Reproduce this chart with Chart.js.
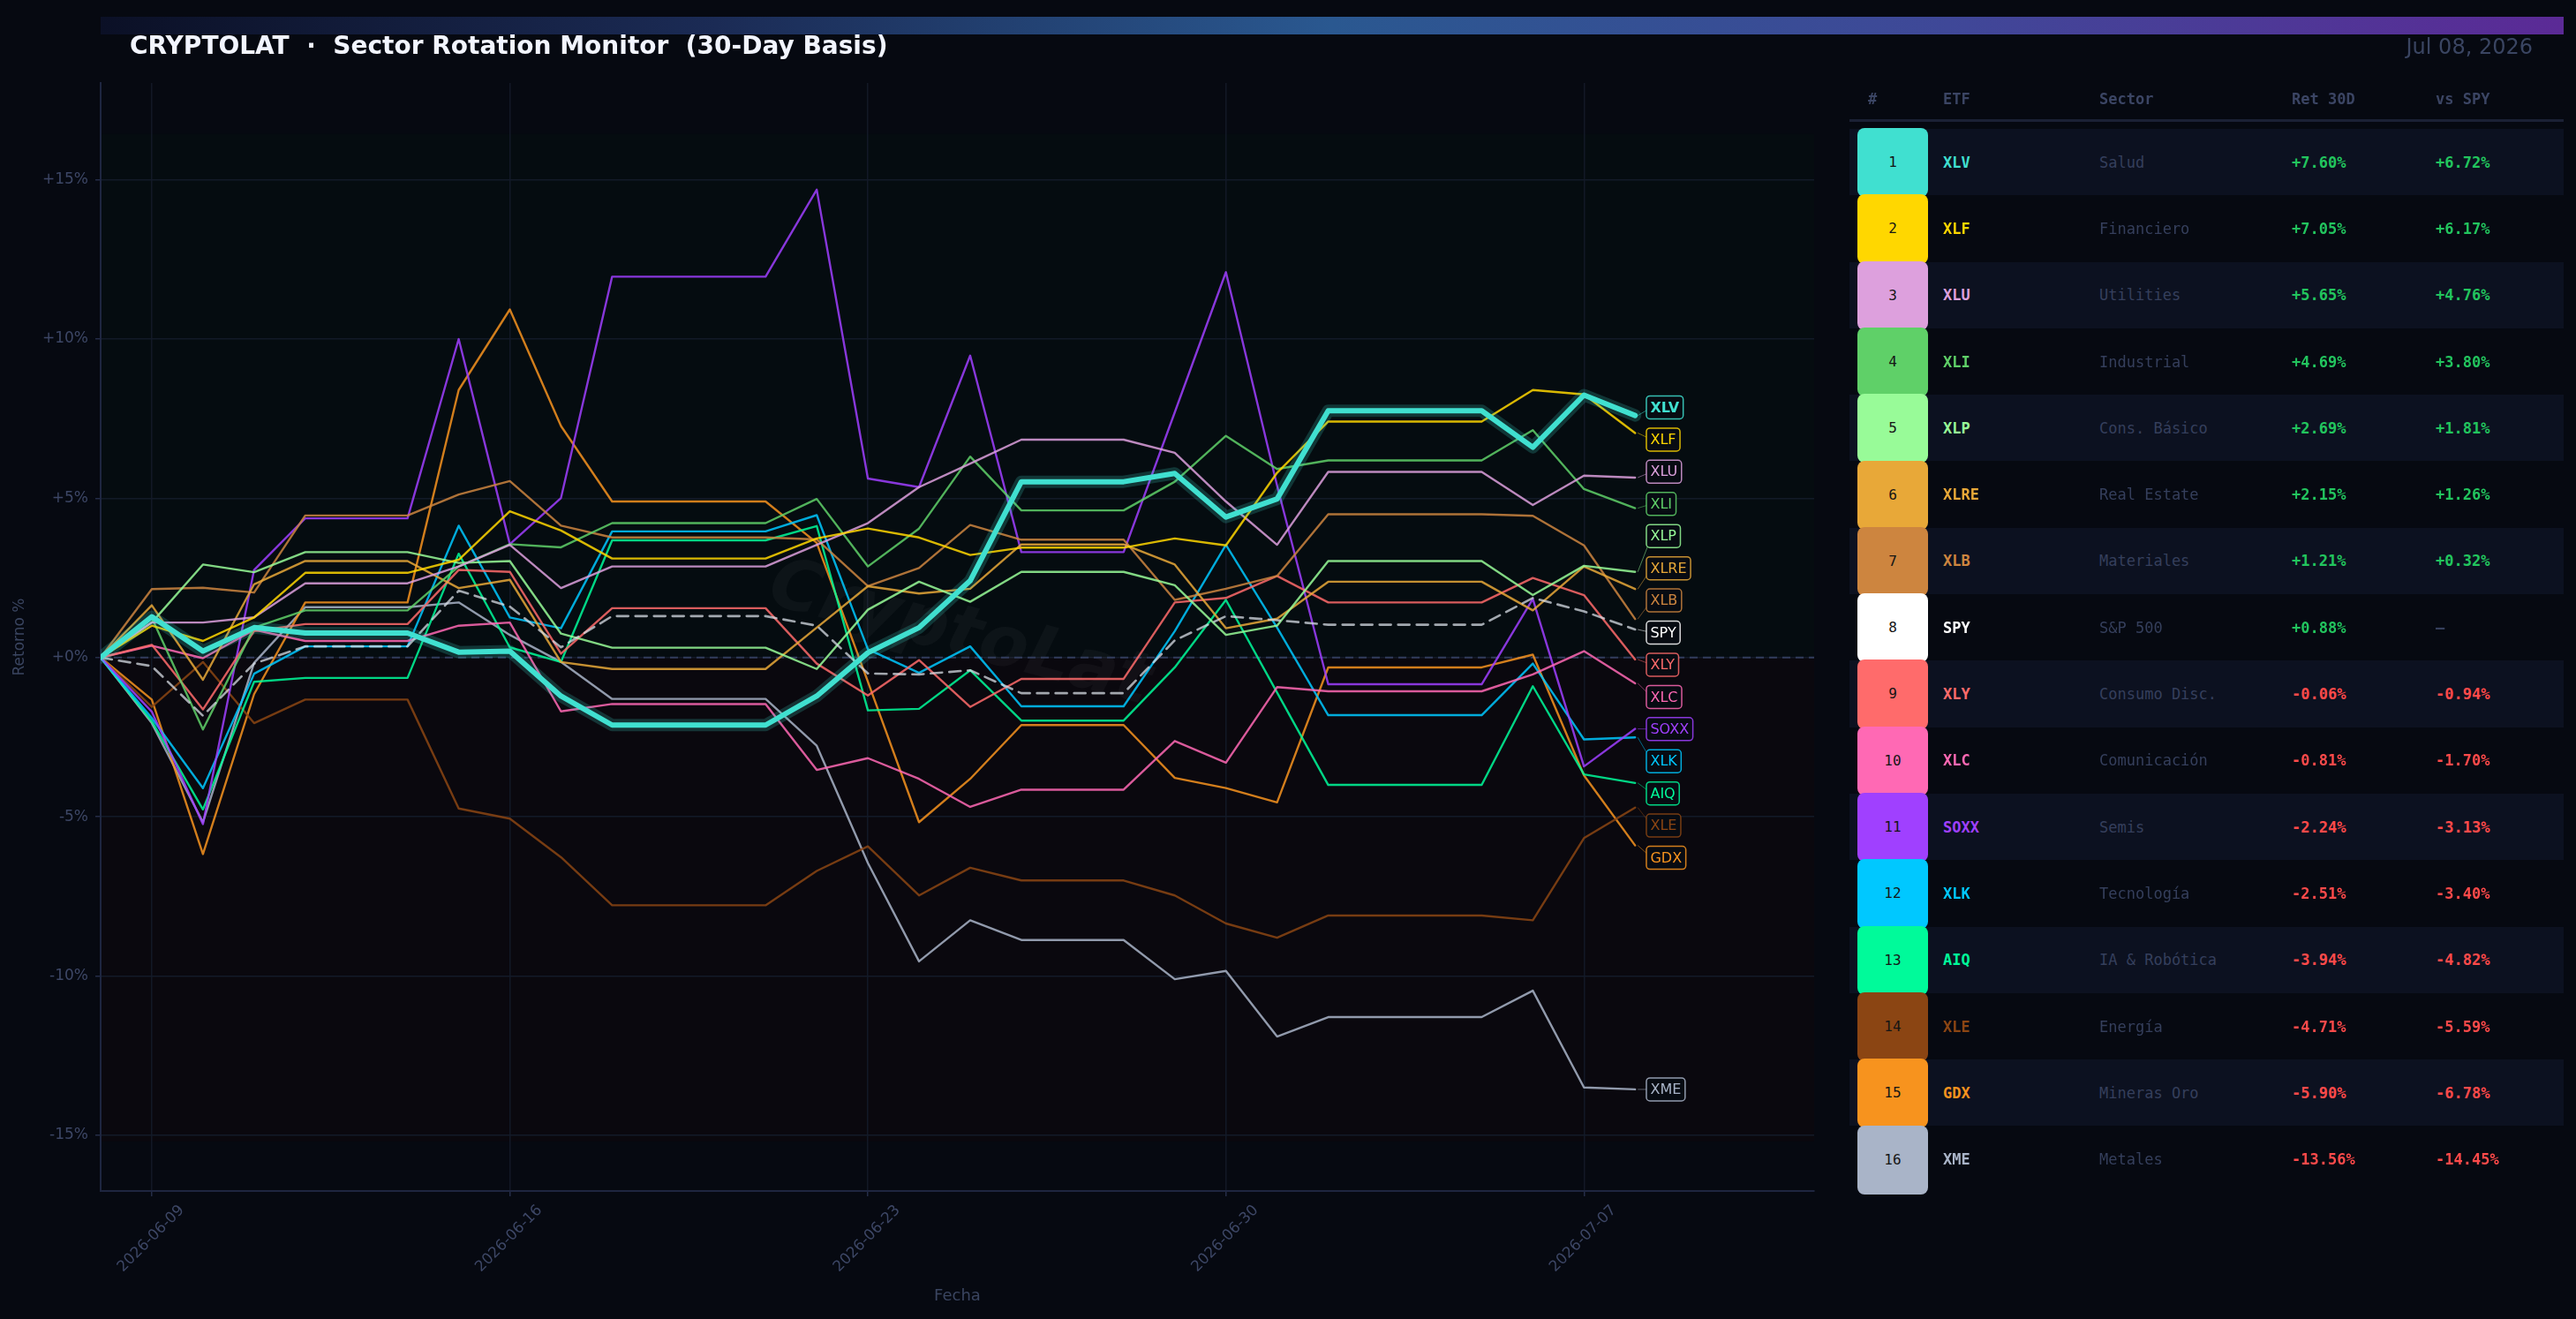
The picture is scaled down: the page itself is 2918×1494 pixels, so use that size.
<!DOCTYPE html>
<html>
<head>
<meta charset="utf-8">
<script src="https://cdn.jsdelivr.net/npm/chart.js@4.4.1/dist/chart.umd.min.js"></script>
<style>
html, body { margin: 0; padding: 0; background: #060911; }
body { width: 2918px; height: 1494px; position: relative; overflow: hidden; font-family: 'DejaVu Sans', sans-serif; }
#chart { position: absolute; left: 0; top: 0; }
#bar { position: absolute; left: 114px; top: 19px; width: 2790px; height: 20px;
  background: linear-gradient(90deg, #0b1026 0%, #1b2b55 25%, #2a5890 50%, #3f4898 75%, #5b2a96 100%); }
#title { position: absolute; left: 147px; top: 38px; font-size: 28px; line-height: 28px; font-weight: bold; color: #f2f5ff; white-space: pre; }
#date { position: absolute; right: 49px; top: 41px; font-size: 24px; line-height: 24px; color: #3a4562; white-space: pre; }
.mono { font-family: 'DejaVu Sans Mono', monospace; font-size: 17px; position: absolute; white-space: pre; line-height: 20px; }
.hdr { font-weight: bold; color: #3b4564; top: 102px; }
.band { position: absolute; left: 2095px; width: 809px; background: #0c1120; }
.sw { position: absolute; left: 2104px; width: 80px; border-radius: 8px; text-align: center; color: #151515;
  font-family: 'DejaVu Sans Mono', monospace; font-size: 16px; }
</style>
</head>
<body>
<canvas id="chart" width="2918" height="1494"></canvas>
<div id="bar"></div>
<div id="title">CRYPTOLAT  ·  Sector Rotation Monitor  (30-Day Basis)</div>
<div id="date">Jul 08, 2026</div>
<div id="table"></div>
<script>
// dates (trading days forward-filled over weekends / holidays)
const dates = ['2026-06-08','2026-06-09','2026-06-10','2026-06-11','2026-06-12','2026-06-13','2026-06-14',
  '2026-06-15','2026-06-16','2026-06-17','2026-06-18','2026-06-19','2026-06-20','2026-06-21',
  '2026-06-22','2026-06-23','2026-06-24','2026-06-25','2026-06-26','2026-06-27','2026-06-28',
  '2026-06-29','2026-06-30','2026-07-01','2026-07-02','2026-07-03','2026-07-04','2026-07-05',
  '2026-07-06','2026-07-07','2026-07-08'];
const tickIdx = [1, 8, 15, 22, 29];

// cumulative return % per ETF
const XLV  = [0, 1.28, 0.2, 0.94, 0.77, 0.77, 0.77, 0.17, 0.2, -1.21, -2.12, -2.12, -2.12, -2.12, -1.21, 0.15, 0.94, 2.41, 5.52, 5.52, 5.52, 5.78, 4.41, 4.98, 7.75, 7.75, 7.75, 7.75, 6.6, 8.24, 7.60];
const XLF  = [0, 1.0, 0.52, 1.26, 2.66, 2.66, 2.66, 3.07, 4.59, 3.99, 3.11, 3.11, 3.11, 3.11, 3.74, 4.05, 3.77, 3.22, 3.45, 3.45, 3.45, 3.74, 3.52, 5.8, 7.41, 7.41, 7.41, 7.41, 8.4, 8.26, 7.05];
const XLU  = [0, 1.1, 1.1, 1.26, 2.33, 2.33, 2.33, 2.86, 3.54, 2.18, 2.86, 2.86, 2.86, 2.86, 3.54, 4.22, 5.35, 6.09, 6.84, 6.84, 6.84, 6.43, 4.9, 3.54, 5.83, 5.83, 5.83, 5.83, 4.79, 5.71, 5.65];
const XLI  = [0, 1.25, -2.26, 0.94, 1.48, 1.48, 1.48, 2.86, 3.56, 3.46, 4.22, 4.22, 4.22, 4.22, 4.98, 2.86, 4.05, 6.31, 4.62, 4.62, 4.62, 5.52, 6.96, 5.92, 6.19, 6.19, 6.19, 6.19, 7.14, 5.29, 4.69];
const XLP  = [0, 1.1, 2.92, 2.68, 3.31, 3.31, 3.31, 2.97, 3.03, 0.75, 0.31, 0.31, 0.31, 0.31, -0.36, 1.5, 2.38, 1.75, 2.69, 2.69, 2.69, 2.27, 0.71, 1.0, 3.03, 3.03, 3.03, 3.03, 1.96, 2.88, 2.69];
const XLRE = [0, 1.64, -0.70, 2.30, 3.03, 3.03, 3.03, 2.18, 2.44, -0.14, -0.36, -0.36, -0.36, -0.36, 0.94, 2.24, 2.01, 2.16, 3.55, 3.55, 3.55, 2.92, 0.92, 1.22, 2.38, 2.38, 2.38, 2.38, 1.48, 2.86, 2.15];
const XLB  = [0, 2.15, 2.19, 2.04, 4.46, 4.46, 4.46, 5.12, 5.54, 4.14, 3.77, 3.77, 3.77, 3.77, 3.71, 2.24, 2.81, 4.16, 3.70, 3.70, 3.70, 1.81, 2.16, 2.56, 4.50, 4.50, 4.50, 4.50, 4.45, 3.52, 1.21];
const SPY  = [0, -0.27, -1.83, -0.19, 0.35, 0.35, 0.35, 2.1, 1.6, 0.32, 1.3, 1.3, 1.3, 1.3, 1.0, -0.5, -0.53, -0.4, -1.12, -1.12, -1.12, 0.54, 1.3, 1.17, 1.03, 1.03, 1.03, 1.03, 1.87, 1.45, 0.88];
const XLY  = [0, 0.4, -1.63, 0.83, 1.05, 1.05, 1.05, 2.75, 2.69, 0.12, 1.55, 1.55, 1.55, 1.55, -0.19, -1.19, -0.08, -1.55, -0.67, -0.67, -0.67, 1.73, 1.87, 2.56, 1.73, 1.73, 1.73, 1.73, 2.5, 1.96, -0.06];
const XLC  = [0, 0.37, -0.02, 0.87, 0.52, 0.52, 0.52, 1.0, 1.1, -1.69, -1.46, -1.46, -1.46, -1.46, -3.53, -3.16, -3.81, -4.69, -4.15, -4.15, -4.15, -2.62, -3.3, -0.93, -1.06, -1.06, -1.06, -1.06, -0.53, 0.2, -0.81];
const SOXX = [0, -1.7, -5.23, 2.75, 4.37, 4.37, 4.37, 10.0, 3.56, 5.01, 11.96, 11.96, 11.96, 11.96, 14.69, 5.62, 5.35, 9.48, 3.31, 3.31, 3.31, 7.7, 12.1, 5.4, -0.84, -0.84, -0.84, -0.84, 1.84, -3.42, -2.24];
const XLK  = [0, -1.9, -4.1, -0.51, 0.35, 0.35, 0.35, 4.14, 1.26, 0.92, 3.96, 3.96, 3.96, 3.96, 4.47, 0.26, -0.48, 0.35, -1.53, -1.53, -1.53, 0.83, 3.54, 0.94, -1.81, -1.81, -1.81, -1.81, -0.19, -2.57, -2.51];
const AIQ  = [0, -2.0, -4.77, -0.76, -0.64, -0.64, -0.64, 3.26, 0.32, -0.14, 3.68, 3.68, 3.68, 3.68, 4.13, -1.66, -1.61, -0.4, -1.98, -1.98, -1.98, -0.31, 1.81, -1.1, -4.0, -4.0, -4.0, -4.0, -0.9, -3.67, -3.94];
const XLE  = [0, -1.55, -0.14, -2.06, -1.32, -1.32, -1.32, -4.74, -5.06, -6.27, -7.78, -7.78, -7.78, -7.78, -6.7, -5.93, -7.47, -6.6, -7.0, -7.0, -7.0, -7.47, -8.35, -8.8, -8.1, -8.1, -8.1, -8.1, -8.25, -5.67, -4.71];
const GDX  = [0, -1.32, -6.17, -1.15, 1.73, 1.73, 1.73, 8.4, 10.93, 7.27, 4.9, 4.9, 4.9, 4.9, 3.6, -0.76, -5.17, -3.81, -2.12, -2.12, -2.12, -3.78, -4.1, -4.55, -0.31, -0.31, -0.31, -0.31, 0.09, -3.7, -5.90];
const XME  = [0, -2.06, -5.17, -0.17, 1.58, 1.58, 1.58, 1.73, 0.71, -0.14, -1.3, -1.3, -1.3, -1.3, -2.77, -6.45, -9.54, -8.25, -8.87, -8.87, -8.87, -10.1, -9.84, -11.9, -11.29, -11.29, -11.29, -11.29, -10.46, -13.5, -13.56];

// table
const tickers = ['XLV','XLF','XLU','XLI','XLP','XLRE','XLB','SPY','XLY','XLC','SOXX','XLK','AIQ','XLE','GDX','XME'];
const sectors = ['Salud','Financiero','Utilities','Industrial','Cons. Básico','Real Estate','Materiales','S&P 500',
  'Consumo Disc.','Comunicación','Semis','Tecnología','IA & Robótica','Energía','Mineras Oro','Metales'];
const ret30 = ['+7.60%','+7.05%','+5.65%','+4.69%','+2.69%','+2.15%','+1.21%','+0.88%','-0.06%','-0.81%','-2.24%','-2.51%','-3.94%','-4.71%','-5.90%','-13.56%'];
const vsSpy = ['+6.72%','+6.17%','+4.76%','+3.80%','+1.81%','+1.26%','+0.32%','—','-0.94%','-1.70%','-3.13%','-3.40%','-4.82%','-5.59%','-6.78%','-14.45%'];
const colors = ['#40E0D0','#FFD700','#DDA0DD','#5FD068','#98FB98','#E8A838','#CD853F','#FFFFFF',
  '#FF6B6B','#FF69B4','#A040FF','#00C8FF','#00FA9A','#8B4513','#F7931E','#A9B4C8'];
const series = [XLV, XLF, XLU, XLI, XLP, XLRE, XLB, SPY, XLY, XLC, SOXX, XLK, AIQ, XLE, GDX, XME];

const greenBand = 16.44;
const redBand = -15.19;
const labelGap = 1.01;

function hexA(hex, a) {
  const n = parseInt(hex.slice(1), 16);
  return `rgba(${n >> 16}, ${(n >> 8) & 255}, ${n & 255}, ${a})`;
}

// ---- table (html) ----
const table = document.getElementById('table');
let html = '';
const hdrX = [2116, 2201, 2378, 2596, 2759];
['#', 'ETF', 'Sector', 'Ret 30D', 'vs SPY'].forEach((h, i) => {
  html += `<div class="mono hdr" style="left:${hdrX[i]}px">${h}</div>`;
});
html += `<div style="position:absolute;left:2095px;top:135px;width:809px;height:3px;background:#1b2135"></div>`;
const rowH = 75.3;
tickers.forEach((t, i) => {
  const top = 146 + i * rowH;
  if (i % 2 === 0) html += `<div class="band" style="top:${top}px;height:${rowH}px"></div>`;
});
tickers.forEach((t, i) => {
  const top = 146 + i * rowH;
  const mid = top + rowH / 2 - 10;
  html += `<div class="sw" style="top:${top - 1}px;height:${rowH + 3}px;line-height:${rowH + 3}px;background:${colors[i]}">${i + 1}</div>`;
  html += `<div class="mono" style="left:2201px;top:${mid}px;font-weight:bold;color:${colors[i]}">${t}</div>`;
  html += `<div class="mono" style="left:2378px;top:${mid}px;color:#353f5c">${sectors[i]}</div>`;
  const rc = ret30[i][0] === '-' ? '#ff4a4a' : '#22c55e';
  html += `<div class="mono" style="left:2596px;top:${mid}px;font-weight:bold;color:${rc}">${ret30[i]}</div>`;
  const vc = vsSpy[i] === '—' ? '#353f5c' : (vsSpy[i][0] === '-' ? '#ff4a4a' : '#22c55e');
  html += `<div class="mono" style="left:2759px;top:${mid}px;font-weight:bold;color:${vc}">${vsSpy[i]}</div>`;
});
table.innerHTML = html;

// ---- chart ----
Chart.defaults.font.family = "'DejaVu Sans', sans-serif";

const bgPlugin = {
  id: 'bands',
  beforeDraw(chart) {
    const { ctx, chartArea: a, scales: { y } } = chart;
    ctx.save();
    ctx.fillStyle = '#050c10';
    ctx.fillRect(a.left, y.getPixelForValue(greenBand), a.right - a.left, y.getPixelForValue(0) - y.getPixelForValue(greenBand));
    ctx.fillStyle = '#0a080e';
    ctx.fillRect(a.left, y.getPixelForValue(0), a.right - a.left, y.getPixelForValue(redBand) - y.getPixelForValue(0));
    ctx.restore();
  },
  beforeDatasetsDraw(chart) {
    const { ctx, chartArea: a, scales: { y } } = chart;
    ctx.save();
    // watermark
    ctx.translate(1087, 720);
    ctx.rotate(15 * Math.PI / 180);
    ctx.font = 'bold italic 80px "DejaVu Sans"';
    ctx.fillStyle = 'rgba(255,255,255,0.035)';
    ctx.textAlign = 'center';
    ctx.textBaseline = 'middle';
    ctx.fillText('CryptoLat', 0, 0);
    ctx.restore();
    // zero line
    ctx.save();
    const y0 = y.getPixelForValue(0);
    ctx.strokeStyle = '#323c5c';
    ctx.lineWidth = 2;
    ctx.setLineDash([9, 6]);
    ctx.beginPath();
    ctx.moveTo(a.left, y0);
    ctx.lineTo(a.right, y0);
    ctx.stroke();
    ctx.restore();
  }
};

const endLabels = {
  id: 'endLabels',
  afterDatasetsDraw(chart) {
    const { ctx, scales: { x, y } } = chart;
    const last = dates.length - 1;
    const items = tickers.map((t, i) => ({ t, c: colors[i], v: series[i][last] }));
    items.sort((a, b) => b.v - a.v);
    let groups = items.map(it => ({ m: [it], c: it.v }));
    let merged = true;
    while (merged) {
      merged = false;
      for (let i = 0; i < groups.length - 1; i++) {
        const a = groups[i], b = groups[i + 1];
        const aBot = a.c - (a.m.length - 1) * labelGap / 2;
        const bTop = b.c + (b.m.length - 1) * labelGap / 2;
        if (aBot - bTop < labelGap) {
          const m = a.m.concat(b.m);
          groups.splice(i, 2, { m, c: m.reduce((s, o) => s + o.v, 0) / m.length });
          merged = true;
          break;
        }
      }
    }
    groups.forEach(g => g.m.forEach((it, k) => { it.ly = g.c + ((g.m.length - 1) / 2 - k) * labelGap; }));

    const xEnd = x.getPixelForValue(last);
    const bx = x.getPixelForValue(last + 0.22);
    ctx.save();
    items.forEach(it => {
      const yv = y.getPixelForValue(it.v);
      const yl = y.getPixelForValue(it.ly);
      ctx.strokeStyle = hexA(it.c, 0.5);
      ctx.lineWidth = 1;
      ctx.beginPath();
      ctx.moveTo(xEnd + 3, yv);
      ctx.lineTo(bx + 6, yl);
      ctx.stroke();
    });
    items.forEach(it => {
      const yl = y.getPixelForValue(it.ly);
      ctx.font = (it.t === 'XLV' ? 'bold ' : '') + '16px "DejaVu Sans"';
      const w = ctx.measureText(it.t).width + 9;
      const h = 26;
      ctx.beginPath();
      ctx.roundRect(bx, yl - h / 2, w, h, 4);
      ctx.fillStyle = '#070b12';
      ctx.fill();
      ctx.strokeStyle = hexA(it.c, 0.85);
      ctx.lineWidth = 1.5;
      ctx.stroke();
      ctx.fillStyle = it.c;
      ctx.textAlign = 'left';
      ctx.textBaseline = 'middle';
      ctx.fillText(it.t, bx + 4.5, yl + 1);
    });
    ctx.restore();
  }
};

const datasets = [];
series.forEach((s, i) => {
  const t = tickers[i];
  const pts = s.map((v, k) => ({ x: k, y: v }));
  if (t === 'XLV') {
    datasets.push({ label: 'XLV glow', data: pts, borderColor: 'rgba(64,224,208,0.2)', borderWidth: 14, order: 1 });
    datasets.push({ label: t, data: pts, borderColor: colors[i], borderWidth: 6, order: 0 });
  } else if (t === 'SPY') {
    datasets.push({ label: t, data: pts, borderColor: 'rgba(215,220,228,0.75)', borderWidth: 2.6, borderDash: [13, 8], order: 2 });
  } else {
    datasets.push({ label: t, data: pts, borderColor: hexA(colors[i], 0.85), borderWidth: 2.4, order: 3 + i });
  }
});

const tickFont = { family: "'DejaVu Sans', sans-serif", size: 17 };
new Chart(document.getElementById('chart'), {
  type: 'line',
  data: { datasets },
  options: {
    responsive: false,
    devicePixelRatio: 1,
    animation: false,
    layout: { padding: { top: 94, right: 863, left: 0, bottom: 0 } },
    elements: {
      point: { radius: 0 },
      line: { tension: 0, borderJoinStyle: 'round', borderCapStyle: 'round' }
    },
    plugins: { legend: { display: false }, tooltip: { enabled: false } },
    scales: {
      x: {
        type: 'linear',
        min: 0,
        max: 33.5,
        afterFit(s) { s.height = 145; },
        afterBuildTicks(s) { s.ticks = tickIdx.map(v => ({ value: v })); },
        ticks: {
          callback: v => dates[v],
          minRotation: 45,
          maxRotation: 45,
          autoSkip: false,
          color: '#3d4766',
          font: tickFont,
          padding: 6,
          labelOffset: 34
        },
        grid: { color: '#121826', lineWidth: 1.5, tickLength: 6, tickColor: '#252d48' },
        border: { color: '#1e2640', width: 2 },
        title: { display: true, text: 'Fecha', color: '#3a4560', font: { size: 18 }, padding: { top: 4, bottom: 15 } }
      },
      y: {
        type: 'linear',
        min: -16.75,
        max: 18.04,
        afterFit(s) { s.width = 114; },
        ticks: {
          stepSize: 5,
          includeBounds: false,
          callback: v => (v > 0 ? '+' + v : v === 0 ? '+0' : String(v)) + '%',
          color: '#3d4766',
          font: tickFont,
          padding: 8
        },
        grid: { color: '#131a28', lineWidth: 1.5, tickLength: 6, tickColor: '#252d48' },
        border: { color: '#1e2640', width: 2 },
        title: { display: true, text: 'Retorno %', color: '#3a4560', font: { size: 17 }, padding: { top: 12, bottom: 0 } }
      }
    }
  },
  plugins: [bgPlugin, endLabels]
});
</script>
</body>
</html>
